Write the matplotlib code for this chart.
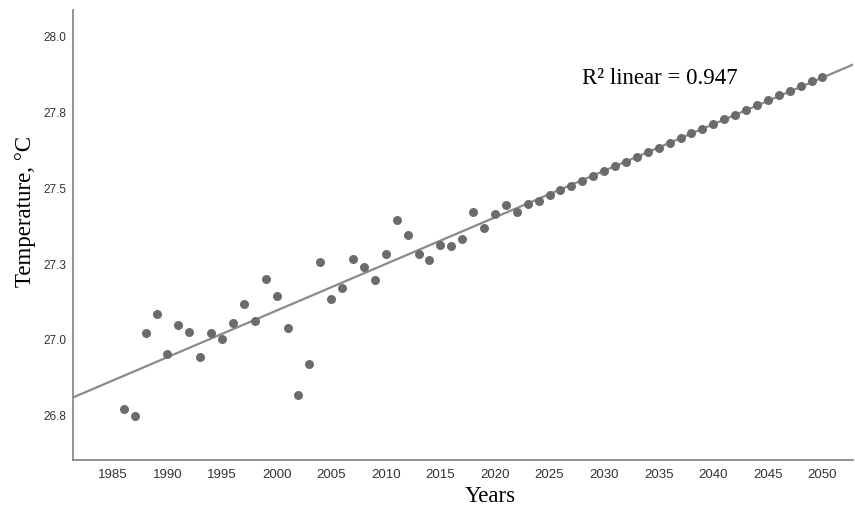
import matplotlib.pyplot as plt
import numpy as np

# Observed (1986-2025) and projected (2026-2050) temperatures
years = list(range(1986, 2051))
temps_observed = [26.772, 26.751, 27.024, 27.085, 26.955, 27.049, 27.027, 26.945, 27.022, 27.002,
                  27.055, 27.118, 27.061, 27.200, 27.145, 27.038, 26.819, 26.921, 27.256, 27.135,
                  27.172, 27.267, 27.240, 27.196, 27.282, 27.396, 27.346, 27.283, 27.264, 27.314,
                  27.310, 27.333, 27.420, 27.367, 27.414, 27.444, 27.422, 27.447, 27.458, 27.477]
temps_projected = [27.493, 27.508, 27.524, 27.540, 27.555, 27.571, 27.586, 27.602, 27.618, 27.633,
                   27.649, 27.664, 27.680, 27.696, 27.711, 27.727, 27.742, 27.758, 27.774, 27.789,
                   27.805, 27.820, 27.836, 27.852, 27.867]
temps = temps_observed + temps_projected

x_ticks = list(range(1985, 2051, 5))
y_ticks = [26.75, 27.0, 27.25, 27.5, 27.75, 28.0]
y_tick_labels = ['26.8', '27.0', '27.3', '27.5', '27.8', '28.0']
r2_text = 'R² linear = 0.947'

fig = plt.figure(figsize=(8.55, 5.11), dpi=100)
ax = fig.add_axes([73 / 855, 51 / 511, 780 / 855, 450 / 511])

ax.scatter(years, temps, s=42, color='#6b6b6b', zorder=3, linewidths=0)

# Linear fit line across the whole axis
x_min, x_max = 1981.35, 2052.8
slope, intercept = np.polyfit(years, temps, 1)
xs = np.array([x_min, x_max])
ax.plot(xs, slope * xs + intercept, color='#8a8a8a', linewidth=1.6, zorder=2)

ax.set_xlim(x_min, x_max)
ax.set_ylim(26.605, 28.086)
ax.set_xticks(x_ticks)
ax.set_yticks(y_ticks)
ax.set_yticklabels(y_tick_labels)

for side in ['top', 'right']:
    ax.spines[side].set_visible(False)
for side in ['left', 'bottom']:
    ax.spines[side].set_color('#8a8a8a')
    ax.spines[side].set_linewidth(1.3)

ax.tick_params(axis='both', length=0, labelcolor='#333333')
ax.tick_params(axis='y', pad=5, labelsize=8.5)
ax.tick_params(axis='x', pad=6.5, labelsize=9.5)
for lbl in ax.get_xticklabels() + ax.get_yticklabels():
    lbl.set_family('Liberation Sans')

fig.text(25 / 855, 1 - 211 / 511, 'Temperature, °C', rotation=90, ha='center', va='center',
         fontsize=16.5, family='Liberation Serif')
fig.text(490 / 855, 1 - 496 / 511, 'Years', ha='center', va='center',
         fontsize=16.5, family='Liberation Serif')
ax.text((660 - 73) / 780, (460 - 78) / 450, r2_text, transform=ax.transAxes,
        ha='center', va='center', fontsize=16.5, family='Liberation Serif')

fig.savefig('out.png', dpi=100)
